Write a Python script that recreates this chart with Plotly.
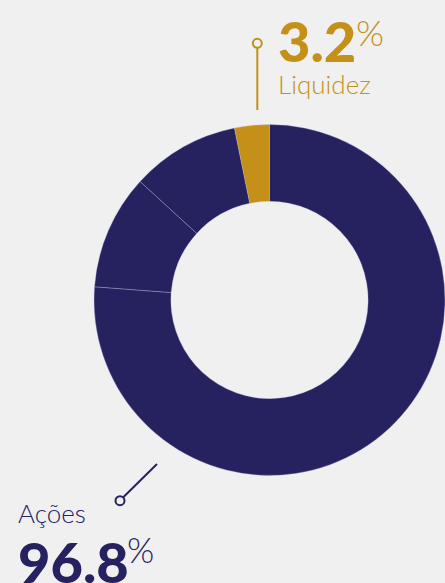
import plotly.graph_objects as go

# Data
labels = ["Ações A", "Ações B", "Ações C", "Liquidez"]
values = [76.2, 10.6, 10.0, 3.2]
colors = ["#262260", "#262260", "#262260", "#C49018"]
acoes_total = "96.8"
liquidez_total = "3.2"

W, H = 445, 583
BG = "#F0F0F0"
NAVY = "#262260"
GOLD = "#C49018"

def px(x):
    return x / W

def py(y):
    return 1 - y / H

fig = go.Figure()
fig.add_trace(go.Pie(
    labels=labels, values=values, sort=False, direction="clockwise", rotation=0,
    hole=0.562, textinfo="none", hoverinfo="skip", showlegend=False,
    marker=dict(colors=colors, line=dict(color="rgba(190,190,225,0.55)", width=0.6)),
    domain=dict(x=[94 / W, 1.0], y=[py(475.5), py(124.5)]),
))

ann = []
# Liquidez
ann.append(dict(text=liquidez_total, x=px(277), y=py(75), xanchor="left", yanchor="bottom",
                font=dict(family="Lato", size=56, color=GOLD, weight=900)))
ann.append(dict(text="%", x=px(355), y=py(9), xanchor="left", yanchor="top",
                font=dict(family="Lato", size=36, color=GOLD, weight=300)))
ann.append(dict(text="Liquidez", x=px(277), y=py(84), xanchor="left", yanchor="middle",
                font=dict(family="Lato", size=26, color=GOLD, weight=300)))
# Ações
ann.append(dict(text="Ações", x=px(17), y=py(513), xanchor="left", yanchor="middle",
                font=dict(family="Lato", size=26, color=NAVY, weight=300)))
ann.append(dict(text=acoes_total, x=px(17), y=py(596), xanchor="left", yanchor="bottom",
                font=dict(family="Lato", size=56, color=NAVY, weight=900)))
ann.append(dict(text="%", x=px(126), y=py(527), xanchor="left", yanchor="top",
                font=dict(family="Lato", size=35, color=NAVY, weight=300)))
for a in ann:
    a.update(xref="paper", yref="paper", showarrow=False, borderpad=0)

shapes = [
    dict(type="line", xref="paper", yref="paper", x0=px(257.3), y0=py(48), x1=px(257.3), y1=py(110),
         line=dict(color=GOLD, width=2)),
    dict(type="circle", xref="paper", yref="paper", x0=px(252.8), y0=py(38.8), x1=px(261.8), y1=py(47.8),
         line=dict(color=GOLD, width=2), fillcolor=BG),
    dict(type="line", xref="paper", yref="paper", x0=px(123.5), y0=py(497), x1=px(157), y1=py(464),
         line=dict(color=NAVY, width=2)),
    dict(type="circle", xref="paper", yref="paper", x0=px(115.5), y0=py(496.2), x1=px(124.5), y1=py(505.2),
         line=dict(color=NAVY, width=2), fillcolor=BG),
]

fig.update_layout(
    width=W, height=H, margin=dict(l=0, r=0, t=0, b=0),
    paper_bgcolor=BG, plot_bgcolor=BG,
    annotations=ann, shapes=shapes,
)

fig.write_html("out.html", config={"displayModeBar": False},
               post_script="document.body.style.margin='0';document.body.style.overflow='hidden';document.documentElement.style.overflow='hidden';")
